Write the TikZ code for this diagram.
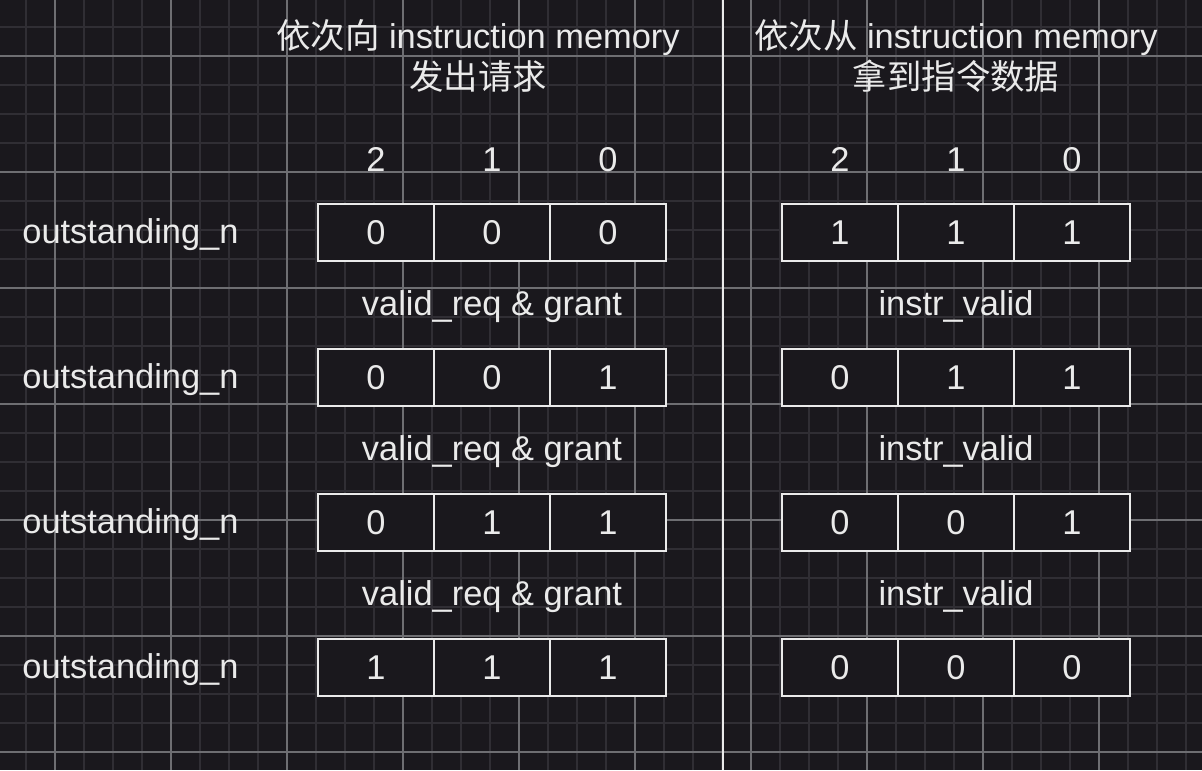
\documentclass[tikz,border=0pt]{standalone}
\usepackage{fontspec}
\setmainfont{Liberation Sans}
\newfontfamily\cjk{Noto Sans CJK SC}
\usepackage{tikz}
\usetikzlibrary{positioning}
\definecolor{CanvasDark}{RGB}{26,24,29}
\definecolor{GridMinor}{RGB}{48,46,52}
\definecolor{GridMajor}{RGB}{110,110,114}
\definecolor{InkWhite}{RGB}{234,234,234}
\newcommand{\diagfont}{\fontsize{17.2}{20.5}\selectfont}
\tikzset{
  gridminor/.style={draw=GridMinor, line width=0.6pt},
  gridmajor/.style={draw=GridMajor, line width=0.6pt},
  divider/.style={draw=InkWhite, line width=1.4pt},
  cell/.style={draw=InkWhite, line width=1.25pt, fill=CanvasDark, minimum width=58pt,
    minimum height=28.5pt, inner sep=0pt, text=InkWhite, font=\diagfont},
  txt/.style={text=InkWhite, font=\diagfont, inner sep=0pt},
  title/.style={txt, align=center},
}

\begin{document}
\begin{tikzpicture}[x=0.5pt, y=-0.5pt]
  \path[use as bounding box, fill=CanvasDark] (0,0) rectangle (1202,770);
  % background grid
  \foreach \gx in {26,55,...,1202} \draw[gridminor] (\gx,0) -- (\gx,770);
  \foreach \gy in {27,56,...,770} \draw[gridminor] (0,\gy) -- (1202,\gy);
  \foreach \gx in {55,171,...,1202} \draw[gridmajor] (\gx,0) -- (\gx,770);
  \foreach \gy in {56,172,...,770} \draw[gridmajor] (0,\gy) -- (1202,\gy);
  % divider
  \coordinate (divtop) at (723,0);
  \coordinate (divbot) at (723,770);
  \draw[divider] (divtop) -- (divbot);
  % titles
  \node[title, anchor=base] (titleL) at (478,90) {{\cjk 依次向} instruction memory\\{\cjk 发出请求}};
  \node[title, anchor=base] (titleR) at (956,90) {{\cjk 依次从} instruction memory\\{\cjk 拿到指令数据}};
  % bit indices
  \foreach \b [count=\c from 0] in {2,1,0} {
    \node[txt, anchor=base] (idxL\c) at ({376+116*\c},171) {\b};
    \node[txt, anchor=base] (idxR\c) at ({840+116*\c},171) {\b};
  }
  % register rows
  \foreach \la/\lb/\lc/\ra/\rb/\rc [count=\r from 0] in {
      0/0/0/1/1/1,
      0/0/1/0/1/1,
      0/1/1/0/0/1,
      1/1/1/0/0/0} {
    \node[txt, anchor=base west] (name\r) at (22,{243+145*\r}) {outstanding\_n};
    \foreach \v [count=\c from 0] in {\la,\lb,\lc}
      \node[cell] (L\r-\c) at ({376+116*\c},{232.5+145*\r}) {\v};
    \foreach \v [count=\c from 0] in {\ra,\rb,\rc}
      \node[cell] (R\r-\c) at ({840+116*\c},{232.5+145*\r}) {\v};
  }
  % transition conditions
  \foreach \r in {0,1,2} {
    \node[txt, anchor=base] (condL\r) at (492,{315+145*\r}) {valid\_req \& grant};
    \node[txt, anchor=base] (condR\r) at (956,{315+145*\r}) {instr\_valid};
  }
\end{tikzpicture}
\end{document}
